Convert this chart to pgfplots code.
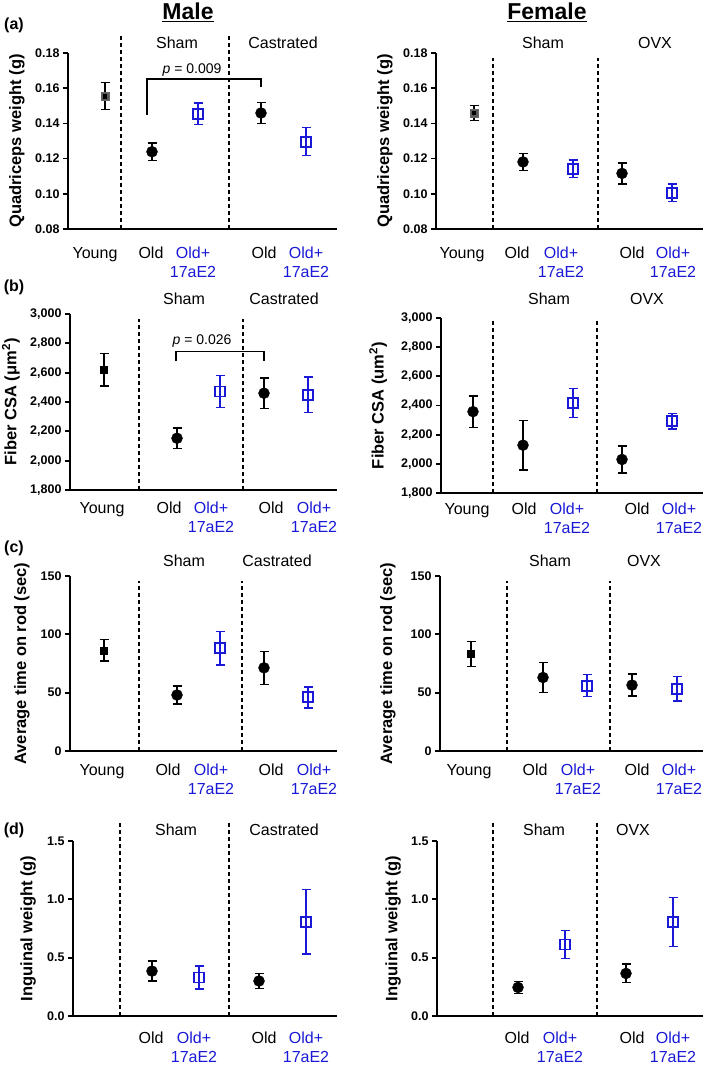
\documentclass[border=0pt]{standalone}
\usepackage{fontspec}
\setmainfont{Liberation Sans}
\usepackage{pgfplots}
\pgfplotsset{compat=1.18}
\definecolor{myblue}{RGB}{25,25,215}
\definecolor{youngfill}{RGB}{90,90,90}
\tikzset{sep/.style={line width=1.2pt, dash pattern=on 4pt off 3pt}}
\pgfplotsset{
  panel/.style={
    scale only axis, clip=false,
    axis x line*=bottom, axis y line*=left,
    axis line style={line width=1.7pt, -},
    tick align=outside, major tick length=5pt,
    ytick style={line width=1.7pt, black},
    xtick style={draw=none},
    yticklabel style={font=\bfseries\fontsize{12.5}{13}\selectfont},
    xticklabel style={font=\fontsize{16}{18.5}\selectfont, align=center, anchor=north, inner sep=0pt},
    ylabel style={font=\bfseries\fontsize{16.5}{18}\selectfont, anchor=center},
  },
  eb/.style={error bars/.cd, y dir=both, y explicit,
    error bar style={line width=1.4pt, #1},
    error mark options={rotate=90, mark size=4.5pt, line width=1.4pt, #1}},
  oldp/.style={only marks, mark=*, mark size=5.5pt, black, eb=black},
  newp/.style={only marks, mark=square, mark size=5pt, myblue, mark options={line width=1.7pt}, eb=myblue},
  youngp/.style={only marks, mark=square*, mark size=3.5pt, black, eb=black},
}
\newcommand{\bl}{\textcolor{myblue}{Old+}\\\textcolor{myblue}{17aE2}}

\begin{document}
\begin{tikzpicture}
\useasboundingbox (0,0) rectangle (709pt,-1068pt);

% titles and labels
\node[font=\bfseries\fontsize{23}{24}\selectfont] at (188pt,-12pt) {\underline{Male}};
\node[font=\bfseries\fontsize{23}{24}\selectfont] at (547pt,-12pt) {\underline{Female}};
\begin{scope}[every node/.style={font=\bfseries\fontsize{16}{17}\selectfont}]
\node at (14pt,-25pt) {(a)};
\node at (14pt,-287pt) {(b)};
\node at (14pt,-548pt) {(c)};
\node at (14pt,-830pt) {(d)};
\end{scope}
\begin{scope}[every node/.style={font=\fontsize{16}{17}\selectfont}]
\node at (177pt,-43pt) {Sham};
\node at (283pt,-43pt) {Castrated};
\node at (543pt,-43pt) {Sham};
\node at (655pt,-43pt) {OVX};
\node at (184pt,-299pt) {Sham};
\node at (284pt,-299pt) {Castrated};
\node at (549pt,-299pt) {Sham};
\node at (647pt,-299pt) {OVX};
\node at (184pt,-561pt) {Sham};
\node at (277pt,-561pt) {Castrated};
\node at (550pt,-561pt) {Sham};
\node at (644pt,-561pt) {OVX};
\node at (176pt,-830pt) {Sham};
\node at (284pt,-830pt) {Castrated};
\node at (544pt,-830pt) {Sham};
\node at (633pt,-830pt) {OVX};
\end{scope}

% (a) male
\begin{axis}[panel, at={(68pt,-229pt)}, anchor=south west,
  width=269pt, height=176pt, xmin=68, xmax=337, ymin=0.08, ymax=0.18,
  ytick={0.08,0.1,0.12,0.14,0.16,0.18}, yticklabels={0.08,0.10,0.12,0.14,0.16,0.18},
  xtick={95,151,193,264,306}, xticklabels={Young,Old,\bl,Old,\bl},
  xticklabel style={yshift=-13pt},
  ylabel={Quadriceps weight (g)}, ylabel style={at={(axis description cs:-0.19,0.5)}}]
\draw[sep] (axis cs:121,0.08) -- (axis cs:121,0.190);
\draw[sep] (axis cs:229,0.08) -- (axis cs:229,0.191);
\draw[line width=1.3pt] (axis cs:147,0.145) -- (axis cs:147,0.1652) -- (axis cs:261,0.1652) -- (axis cs:261,0.1607);
\node[font=\fontsize{14}{15}\selectfont] at (axis cs:192,0.1705) {\itshape p\upshape{} = 0.009};
\addplot[only marks, mark=square*, mark size=4pt, mark options={fill=youngfill, draw=black!60, line width=0.6pt}, eb=black] coordinates {(105,0.1555) +- (0,0.0077)};
\addplot[only marks, mark=square*, mark size=1.6pt, black] coordinates {(105,0.1555)};
\addplot[oldp] coordinates {(152,0.1239) +- (0,0.005) (261,0.1459) +- (0,0.006)};
\addplot[newp] coordinates {(198,0.1455) +- (0,0.006) (306,0.1296) +- (0,0.008)};
\end{axis}

% (a) female
\begin{axis}[panel, at={(436pt,-229pt)}, anchor=south west,
  width=267pt, height=176pt, xmin=436, xmax=703, ymin=0.08, ymax=0.18,
  ytick={0.08,0.1,0.12,0.14,0.16,0.18}, yticklabels={0.08,0.10,0.12,0.14,0.16,0.18},
  xtick={462,517,561,632,673}, xticklabels={Young,Old,\bl,Old,\bl},
  xticklabel style={yshift=-13pt},
  ylabel={Quadriceps weight (g)}, ylabel style={at={(axis description cs:-0.191,0.5)}}]
\draw[sep] (axis cs:493,0.08) -- (axis cs:493,0.177);
\draw[sep] (axis cs:598,0.08) -- (axis cs:598,0.177);
\addplot[only marks, mark=square*, mark size=4pt, mark options={fill=youngfill, draw=black!60, line width=0.6pt}, eb=black] coordinates {(474,0.1459) +- (0,0.0043)};
\addplot[only marks, mark=square*, mark size=1.6pt, black] coordinates {(474,0.1459)};
\addplot[oldp] coordinates {(523,0.1181) +- (0,0.0048) (622,0.1116) +- (0,0.006)};
\addplot[newp] coordinates {(573,0.1141) +- (0,0.005) (672,0.1006) +- (0,0.005)};
\end{axis}

% (b) male
\begin{axis}[panel, at={(70pt,-490pt)}, anchor=south west,
  width=267pt, height=176pt, xmin=70, xmax=337, ymin=1800, ymax=3000,
  ytick={1800,2000,2200,2400,2600,2800,3000}, yticklabels={{1,800},{2,000},{2,200},{2,400},{2,600},{2,800},{3,000}},
  xtick={102,169,211,271,314}, xticklabels={Young,Old,\bl,Old,\bl},
  xticklabel style={yshift=-7pt},
  ylabel={Fiber CSA (μm\textsuperscript{2})}, ylabel style={at={(axis description cs:-0.221,0.5)}}]
\draw[sep] (axis cs:139,1800) -- (axis cs:139,2966);
\draw[sep] (axis cs:243,1800) -- (axis cs:243,2966);
\draw[line width=1.3pt] (axis cs:176,2677) -- (axis cs:176,2743) -- (axis cs:264,2743) -- (axis cs:264,2677);
\node[font=\fontsize{14}{15}\selectfont] at (axis cs:202,2818) {\itshape p\upshape{} = 0.026};
\addplot[youngp] coordinates {(104,2620) +- (0,110)};
\addplot[oldp] coordinates {(177,2153) +- (0,71) (264,2460) +- (0,105)};
\addplot[newp] coordinates {(220,2472) +- (0,108) (308,2450) +- (0,120)};
\end{axis}

% (b) female
\begin{axis}[panel, at={(441pt,-493pt)}, anchor=south west,
  width=262pt, height=175pt, xmin=441, xmax=703, ymin=1800, ymax=3000,
  ytick={1800,2000,2200,2400,2600,2800,3000}, yticklabels={{1,800},{2,000},{2,200},{2,400},{2,600},{2,800},{3,000}},
  xtick={467,524,567,637,679}, xticklabels={Young,Old,\bl,Old,\bl},
  xticklabel style={yshift=-5pt},
  ylabel={Fiber CSA (um\textsuperscript{2})}, ylabel style={at={(axis description cs:-0.24,0.5)}}]
\draw[sep] (axis cs:493,1800) -- (axis cs:493,3000);
\draw[sep] (axis cs:597,1800) -- (axis cs:597,3000);
\addplot[oldp] coordinates {(473,2358) +- (0,107)};
\addplot[oldp] coordinates {(523,2128) +- (0,170) (622,2030) +- (0,93)};
\addplot[newp] coordinates {(573,2416) +- (0,100) (672,2293) +- (0,53)};
\end{axis}

% (c) male
\begin{axis}[panel, at={(70pt,-751pt)}, anchor=south west,
  width=267pt, height=175pt, xmin=70, xmax=337, ymin=0, ymax=150,
  ytick={0,50,100,150}, yticklabels={0,50,100,150},
  xtick={102,168,211,271,314}, xticklabels={Young,Old,\bl,Old,\bl},
  xticklabel style={yshift=-8pt},
  ylabel={Average time on rod (sec)}, ylabel style={at={(axis description cs:-0.18,0.5)}}]
\draw[sep] (axis cs:139,0) -- (axis cs:139,145.7);
\draw[sep] (axis cs:242,0) -- (axis cs:242,145.7);
\addplot[youngp] coordinates {(104,86.4) +- (0,9.2)};
\addplot[oldp] coordinates {(177,48) +- (0,7.7) (264,71.3) +- (0,14.2)};
\addplot[newp] coordinates {(220,88) +- (0,14.3) (308,46) +- (0,9)};
\end{axis}

% (c) female
\begin{axis}[panel, at={(440pt,-751pt)}, anchor=south west,
  width=263pt, height=175pt, xmin=440, xmax=703, ymin=0, ymax=150,
  ytick={0,50,100,150}, yticklabels={0,50,100,150},
  xtick={469,535,578,637,679}, xticklabels={Young,Old,\bl,Old,\bl},
  xticklabel style={yshift=-8pt},
  ylabel={Average time on rod (sec)}, ylabel style={at={(axis description cs:-0.198,0.5)}}]
\draw[sep] (axis cs:507,0) -- (axis cs:507,145.7);
\draw[sep] (axis cs:610,0) -- (axis cs:610,145.7);
\addplot[youngp] coordinates {(471,83) +- (0,10.7)};
\addplot[oldp] coordinates {(543,63) +- (0,12.7) (632,56.5) +- (0,9.5)};
\addplot[newp] coordinates {(587,56) +- (0,9.5) (677,53.3) +- (0,10.4)};
\end{axis}

% (d) male
\begin{axis}[panel, at={(73pt,-1016pt)}, anchor=south west,
  width=264pt, height=175pt, xmin=73, xmax=337, ymin=0, ymax=1.5,
  ytick={0,0.5,1,1.5}, yticklabels={0.0,0.5,1.0,1.5},
  xtick={151,194,264,306}, xticklabels={Old,\bl,Old,\bl},
  xticklabel style={yshift=-11pt},
  ylabel={Inguinal weight (g)}, ylabel style={at={(axis description cs:-0.17,0.5)}}]
\draw[sep] (axis cs:120,0) -- (axis cs:120,1.663);
\draw[sep] (axis cs:229,0) -- (axis cs:229,1.663);
\addplot[oldp] coordinates {(152,0.385) +- (0,0.085) (259,0.30) +- (0,0.066)};
\addplot[newp] coordinates {(199,0.33) +- (0,0.1) (306,0.807) +- (0,0.277)};
\end{axis}

% (d) female
\begin{axis}[panel, at={(437pt,-1016pt)}, anchor=south west,
  width=266pt, height=175pt, xmin=437, xmax=703, ymin=0, ymax=1.5,
  ytick={0,0.5,1,1.5}, yticklabels={0.0,0.5,1.0,1.5},
  xtick={517,560,632,673}, xticklabels={Old,\bl,Old,\bl},
  xticklabel style={yshift=-11pt},
  ylabel={Inguinal weight (g)}, ylabel style={at={(axis description cs:-0.165,0.5)}}]
\draw[sep] (axis cs:493,0) -- (axis cs:493,1.663);
\draw[sep] (axis cs:597,0) -- (axis cs:597,1.663);
\addplot[oldp] coordinates {(518,0.245) +- (0,0.053) (626,0.365) +- (0,0.08)};
\addplot[newp] coordinates {(565,0.613) +- (0,0.12) (673,0.807) +- (0,0.21)};
\end{axis}
\end{tikzpicture}
\end{document}
